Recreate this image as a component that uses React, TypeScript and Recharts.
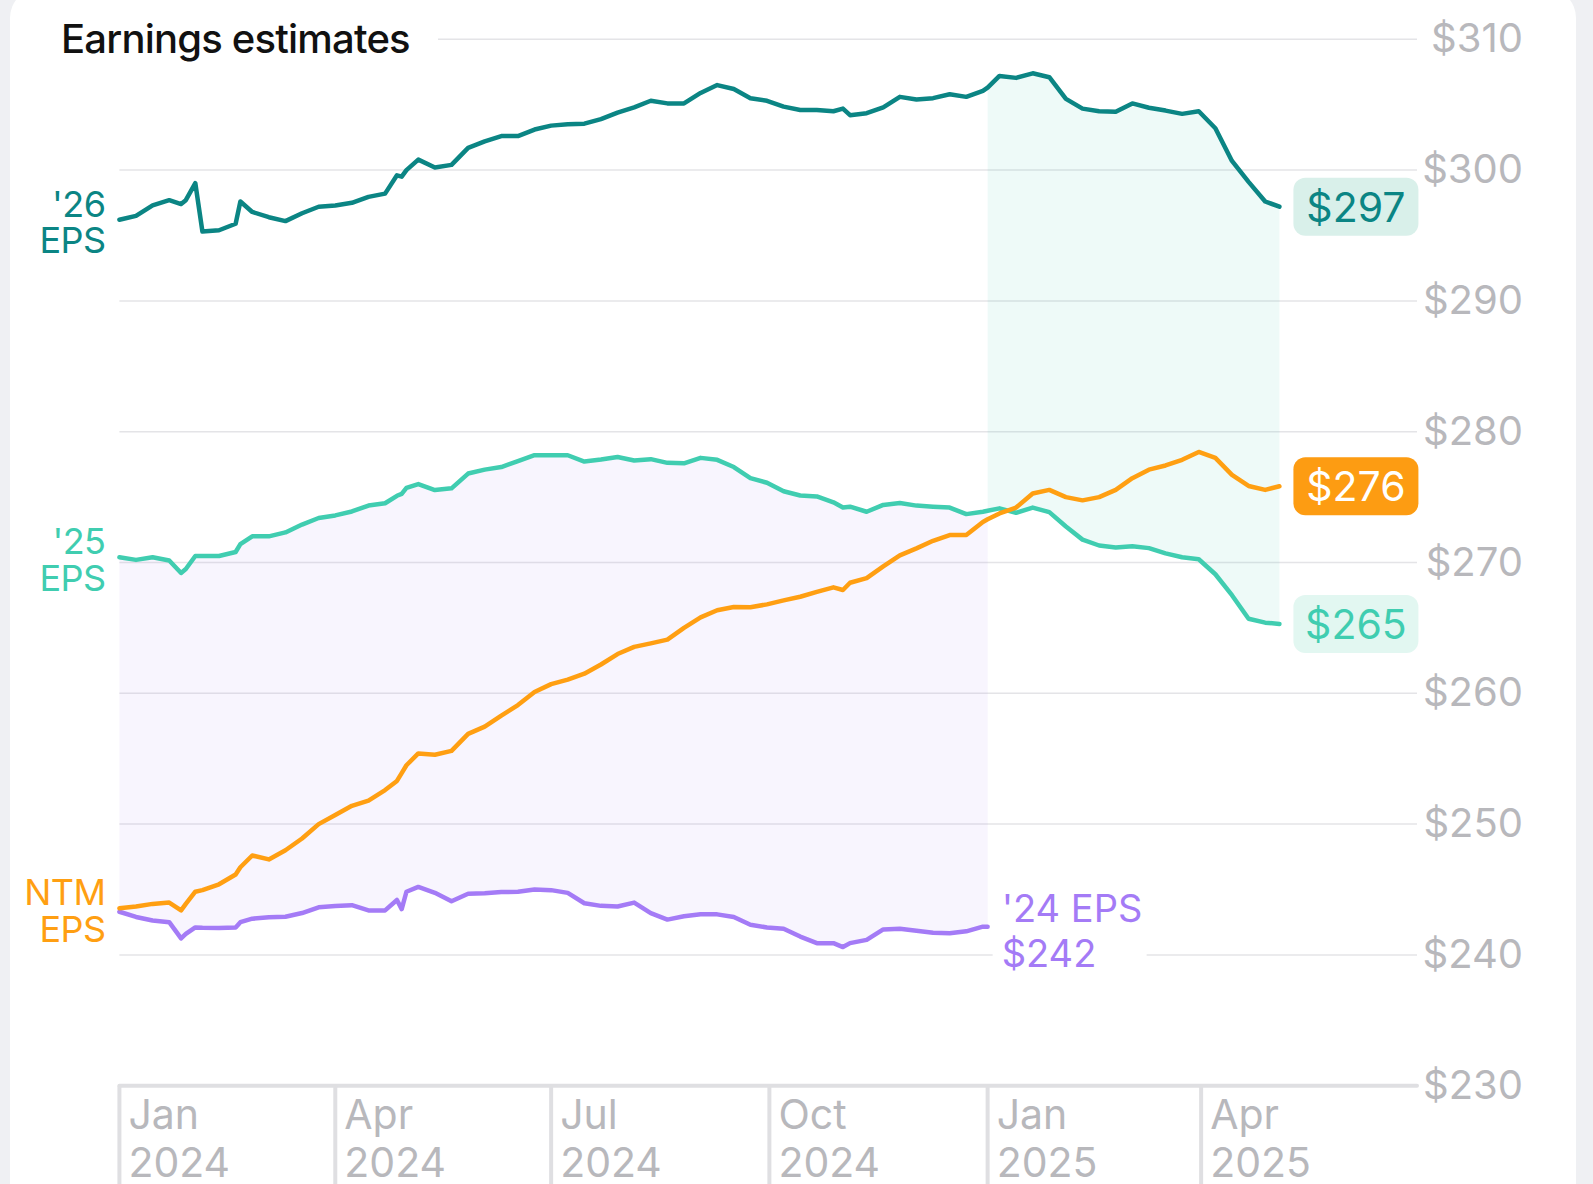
import {
  ComposedChart,
  Line,
  Area,
  XAxis,
  YAxis,
  CartesianGrid,
  ReferenceDot,
} from "recharts";

// weekly-ish sampling dates (extra points where the lines jump)
const dates = [
  "2024-01-01", "2024-01-08", "2024-01-15", "2024-01-22", "2024-01-27", "2024-01-29",
  "2024-02-02", "2024-02-05", "2024-02-12", "2024-02-19", "2024-02-21", "2024-02-26",
  "2024-03-04", "2024-03-11", "2024-03-18", "2024-03-25", "2024-04-01", "2024-04-08",
  "2024-04-15", "2024-04-22", "2024-04-27", "2024-04-29", "2024-05-01", "2024-05-06",
  "2024-05-13", "2024-05-20", "2024-05-27", "2024-06-03", "2024-06-10", "2024-06-17",
  "2024-06-24", "2024-07-01", "2024-07-08", "2024-07-15", "2024-07-22", "2024-07-29",
  "2024-08-05", "2024-08-12", "2024-08-19", "2024-08-26", "2024-09-02", "2024-09-09",
  "2024-09-16", "2024-09-23", "2024-09-30", "2024-10-07", "2024-10-14", "2024-10-21",
  "2024-10-28", "2024-11-01", "2024-11-04", "2024-11-11", "2024-11-18", "2024-11-25",
  "2024-12-02", "2024-12-09", "2024-12-16", "2024-12-23", "2024-12-30", "2025-01-01",
  "2025-01-06", "2025-01-13", "2025-01-20", "2025-01-27", "2025-02-03", "2025-02-10",
  "2025-02-17", "2025-02-24", "2025-03-03", "2025-03-10", "2025-03-17", "2025-03-24",
  "2025-03-31", "2025-04-07", "2025-04-14", "2025-04-21", "2025-04-28", "2025-05-04",
];

const eps26 = [
  296.2, 296.5, 297.3, 297.7, 297.4, 297.7, 299.0, 295.3, 295.4, 295.9, 297.6, 296.8,
  296.4, 296.1, 296.7, 297.2, 297.3, 297.5, 297.95, 298.2, 299.6, 299.5, 300.0, 300.8,
  300.2, 300.4, 301.7, 302.2, 302.6, 302.6, 303.1, 303.4, 303.5, 303.55, 303.9, 304.4,
  304.8, 305.3, 305.1, 305.1, 305.9, 306.5, 306.2, 305.5, 305.3, 304.85, 304.6, 304.6,
  304.5, 304.7, 304.2, 304.35, 304.8, 305.6, 305.4, 305.5, 305.8, 305.6, 306.05, 306.3,
  307.2, 307.05, 307.4, 307.1, 305.45, 304.7, 304.5, 304.46, 305.1, 304.77, 304.55, 304.3,
  304.5, 303.2, 300.7, 299.1, 297.6, 297.2,
];

const eps25 = [
  270.4, 270.2, 270.4, 270.15, 269.2, 269.5, 270.5, 270.5, 270.5, 270.8, 271.4, 272.0,
  272.0, 272.3, 272.9, 273.4, 273.6, 273.9, 274.35, 274.53, 275.1, 275.25, 275.7, 276.0,
  275.54, 275.67, 276.8, 277.1, 277.3, 277.75, 278.2, 278.2, 278.2, 277.72, 277.87, 278.07,
  277.8, 277.9, 277.62, 277.58, 278.0, 277.85, 277.3, 276.45, 276.1, 275.45, 275.12, 275.05,
  274.6, 274.2, 274.27, 273.88, 274.4, 274.55, 274.35, 274.27, 274.2, 273.7, 273.88, 273.95,
  274.14, 273.8, 274.2, 273.85, 272.75, 271.75, 271.3, 271.15, 271.25, 271.1, 270.7, 270.4,
  270.25, 269.1, 267.5, 265.7, 265.4, 265.3,
];

const ntmEps = [
  243.56, 243.7, 243.9, 244.0, 243.4, 243.9, 244.83, 244.95, 245.4, 246.15, 246.7, 247.6,
  247.3, 248.0, 248.9, 250.0, 250.7, 251.4, 251.8, 252.6, 253.3, 253.9, 254.5, 255.4,
  255.3, 255.6, 256.9, 257.45, 258.3, 259.1, 260.1, 260.7, 261.05, 261.5, 262.2, 263.0,
  263.55, 263.82, 264.1, 265.0, 265.8, 266.35, 266.6, 266.58, 266.8, 267.1, 267.38, 267.75,
  268.1, 267.9, 268.45, 268.8, 269.7, 270.55, 271.08, 271.66, 272.1, 272.1, 273.1, 273.3,
  273.75, 274.2, 275.27, 275.55, 275.0, 274.75, 275.0, 275.55, 276.45, 277.1, 277.42, 277.85,
  278.45, 278.0, 276.7, 275.85, 275.55, 275.83,
];

const eps24 = [
  243.3, 242.9, 242.63, 242.5, 241.26, 241.6, 242.1, 242.07, 242.05, 242.1, 242.5, 242.77,
  242.87, 242.92, 243.2, 243.64, 243.74, 243.8, 243.4, 243.4, 244.2, 243.5, 244.83, 245.2,
  244.75, 244.1, 244.68, 244.71, 244.8, 244.83, 245.0, 244.95, 244.74, 243.95, 243.75, 243.7,
  244.0, 243.2, 242.7, 242.95, 243.1, 243.1, 242.9, 242.3, 242.1, 242.0, 241.4, 240.9,
  240.9, 240.6, 240.9, 241.15, 241.95, 242.0, 241.85, 241.7, 241.65, 241.8, 242.16, 242.16,
  null, null, null, null, null, null, null, null, null, null, null, null,
  null, null, null, null, null, null,
];

const tickDates = ["2024-01-01", "2024-04-01", "2024-07-01", "2024-10-01", "2025-01-01", "2025-04-01"];
const tickMonths = ["Jan", "Apr", "Jul", "Oct", "Jan", "Apr"];
const tickYears = ["2024", "2024", "2024", "2024", "2025", "2025"];
const priceTicks = [230, 240, 250, 260, 270, 280, 290, 300, 310];

const C26 = "#0b8584";
const C25 = "#40cdb0";
const CNTM = "#ff9f12";
const C24 = "#a47bf6";
const GRAY = "#b8b8bc";
const FONT = "Inter, 'Noto Sans', sans-serif";

const DAY0 = Date.UTC(2024, 0, 1);
const toDay = (s: string) => (Date.parse(s + "T00:00:00Z") - DAY0) / 86400000;
const tickDays = tickDates.map(toDay);
const yearSwitch = toDay("2025-01-01");

const data = dates.map((d, i) => ({
  day: toDay(d),
  e26: eps26[i],
  e25: eps25[i],
  ntm: ntmEps[i],
  e24: eps24[i],
  band24: eps24[i] != null ? [eps24[i], eps25[i]] : null,
  band25: toDay(d) >= yearSwitch ? [eps25[i], eps26[i]] : null,
}));

const last = dates.length - 1;
const last24 = 59;

function XTick(props: any) {
  const { x, y, payload } = props;
  const i = tickDays.indexOf(payload.value);
  return (
    <g>
      <line x1={x} x2={x} y1={y} y2={y + 110} stroke="#dfdfe2" strokeWidth={4} />
      <text x={x + 9} y={y + 43} fill={GRAY} fontSize={41} fontFamily={FONT}>
        {tickMonths[i]}
      </text>
      <text x={x + 9} y={y + 91} fill={GRAY} fontSize={41} fontFamily={FONT}>
        {tickYears[i]}
      </text>
    </g>
  );
}

function YTick(props: any) {
  const { x, y, payload } = props;
  return (
    <text x={x + 106} y={y + 13} textAnchor="end" fill={GRAY} fontSize={40} fontFamily={FONT}>
      ${payload.value}
    </text>
  );
}

const leftLabel = (color: string, top: string) => (p: any) => (
  <g>
    <text x={p.cx - 14} y={p.cy - 3} textAnchor="end" fill={color} fontSize={36} letterSpacing={-0.6} fontFamily={FONT}>
      {top}
    </text>
    <text x={p.cx - 14} y={p.cy + 33.5} textAnchor="end" fill={color} fontSize={36} letterSpacing={-0.6} fontFamily={FONT}>
      EPS
    </text>
  </g>
);

const badge = (bg: string, color: string, value: number) => (p: any) => (
  <g>
    <rect x={p.cx + 14} y={p.cy - 29} width={125} height={58} rx={12} fill={bg} />
    <text
      x={p.cx + 76.5}
      y={p.cy + 15}
      textAnchor="middle"
      fill={color}
      fontSize={41}
      fontFamily={FONT}
    >
      ${Math.round(value)}
    </text>
  </g>
);

const label24 = (p: any) => (
  <g>
    <rect x={p.cx + 5} y={p.cy - 46} width={154} height={96} fill="#ffffff" />
    <text x={p.cx + 14} y={p.cy - 5} fill={C24} fontSize={38} fontFamily={FONT}>
      '24 EPS
    </text>
    <text x={p.cx + 14} y={p.cy + 40} fill={C24} fontSize={38} fontFamily={FONT}>
      ${Math.round(eps24[last24] as number)}
    </text>
  </g>
);

const lineProps = {
  type: "linear" as const,
  strokeWidth: 4.5,
  dot: false,
  activeDot: false,
  isAnimationActive: false,
  strokeLinejoin: "round" as const,
  strokeLinecap: "round" as const,
};

export default function App() {
  return (
    <div
      style={{
        position: "absolute",
        left: 0,
        top: 0,
        width: 1593,
        height: 1184,
        overflow: "hidden",
        background: "#eff0f3",
      }}
    >
      <div
        style={{
          position: "absolute",
          left: 10,
          top: -12,
          width: 1566,
          height: 1300,
          borderRadius: 30,
          background: "#ffffff",
        }}
      />
      <div style={{ position: "absolute", left: 0, top: 0 }}>
        <ComposedChart
          width={1593}
          height={1184}
          data={data}
          margin={{ top: 39.3, right: 0, bottom: 0, left: 119.4 }}
        >
          <CartesianGrid vertical={false} stroke="#e4e4e7" strokeWidth={1.5} />
          <XAxis
            dataKey="day"
            type="number"
            domain={[0, toDay("2025-07-01")]}
            ticks={tickDays}
            interval={0}
            height={98.3}
            tickSize={0}
            tickMargin={0}
            tickLine={false}
            axisLine={{ stroke: "#dfdfe2", strokeWidth: 4, strokeLinecap: "round" }}
            tick={<XTick />}
          />
          <YAxis
            orientation="right"
            domain={[230, 310]}
            ticks={priceTicks}
            width={176}
            tickSize={0}
            tickMargin={0}
            tickLine={false}
            axisLine={false}
            tick={<YTick />}
          />
          <Area
            dataKey="band24"
            type="linear"
            stroke="none"
            fill={C24}
            fillOpacity={0.075}
            isAnimationActive={false}
            activeDot={false}
          />
          <Area
            dataKey="band25"
            type="linear"
            stroke="none"
            fill={C25}
            fillOpacity={0.09}
            isAnimationActive={false}
            activeDot={false}
          />
          <Line dataKey="e24" stroke={C24} {...lineProps} />
          <Line dataKey="e26" stroke={C26} {...lineProps} />
          <Line dataKey="e25" stroke={C25} {...lineProps} />
          <Line dataKey="ntm" stroke={CNTM} {...lineProps} />

          <ReferenceDot x={data[0].day} y={eps26[0]} r={1} ifOverflow="visible" shape={leftLabel(C26, "'26")} />
          <ReferenceDot x={data[0].day} y={eps25[0]} r={1} ifOverflow="visible" shape={leftLabel(C25, "'25")} />
          <ReferenceDot x={data[0].day} y={ntmEps[0]} r={1} ifOverflow="visible" shape={leftLabel(CNTM, "NTM")} />

          <ReferenceDot x={data[last].day} y={eps26[last]} r={1} ifOverflow="visible" shape={badge("#d9f0ea", C26, eps26[last])} />
          <ReferenceDot x={data[last].day} y={ntmEps[last]} r={1} ifOverflow="visible" shape={badge("#fd9c12", "#ffffff", ntmEps[last])} />
          <ReferenceDot x={data[last].day} y={eps25[last]} r={1} ifOverflow="visible" shape={badge("#e2f7f1", C25, eps25[last])} />
          <ReferenceDot x={data[last24].day} y={eps24[last24] as number} r={1} ifOverflow="visible" shape={label24} />
        </ComposedChart>
      </div>
      <svg style={{ position: "absolute", left: 0, top: 0 }} width={460} height={80}>
        <rect x={40} y={0} width={398} height={78} fill="#ffffff" />
        <text
          x={61}
          y={53}
          fill="#111111"
          fontSize={40}
          fontWeight={500}
          letterSpacing={-0.8}
          fontFamily={FONT}
        >
          Earnings estimates
        </text>
      </svg>
    </div>
  );
}
